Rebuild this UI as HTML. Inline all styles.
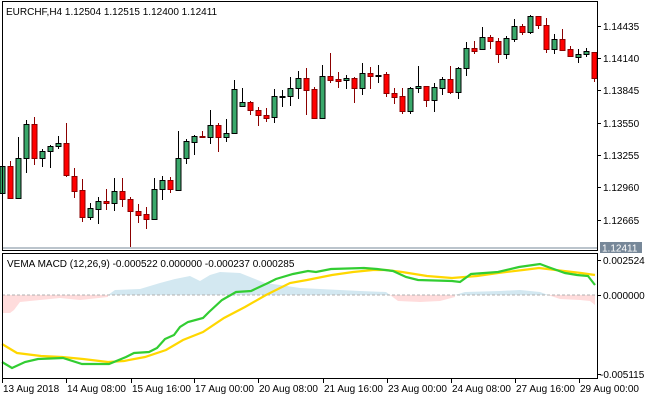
<!DOCTYPE html>
<html><head><meta charset="utf-8"><style>
html,body{margin:0;padding:0;background:#fff;width:650px;height:400px;overflow:hidden}
svg{display:block}
text{font-family:"Liberation Sans",sans-serif;font-size:10px;fill:#000}
</style></head><body>
<svg id="s" width="650" height="400" xmlns="http://www.w3.org/2000/svg">
<rect x="0" y="0" width="650" height="400" fill="#fff"/>
<g id="hist"></g>
<line x1="2" y1="295" x2="597" y2="295" stroke="#b0b0b0" stroke-dasharray="3,2"/>
<polyline fill="none" stroke="#ffd700" stroke-width="2.2" points="2,344 17,353 41,356 62,357 83,359 108,362 124,361 145,357 166,350 183,340 203,332 224,318 245,307 266,295 290,283 307,280 332,275 353,272 373,270 386,270 402,272 427,276 452,278 477,276 498,273 523,270 539,268 564,271 581,273 595,275"/>
<polyline fill="none" stroke="#32cd32" stroke-width="2.2" points="2,362 12,368 25,362 38,359 63,358 82,364 109,364 126,357 134,353 149,352 157,348 165,339 174,335 180,327 188,322 203,318 209,312 222,300 236,292 251,291 268,283 276,279 293,274 308,271 316,272 331,269 364,268 377,269 393,271 406,277 418,280 452,281 460,282 471,274 498,272 519,267 540,264 548,267 565,273 577,275 588,276 595,285"/>
<g id="c"></g>
<line x1="2" y1="248" x2="597" y2="248" stroke="#778899" stroke-width="1"/>
<rect x="2.5" y="1.5" width="595" height="249" fill="none" stroke="#000"/>
<rect x="2.5" y="253.5" width="595" height="125" fill="none" stroke="#000"/>
<text x="6" y="15">EURCHF,H4  1.12504 1.12515 1.12400 1.12411</text>
<text x="7" y="267">VEMA MACD (12,26,9) -0.000522 0.000000 -0.000237 0.000285</text>
<g id="ax"></g>
<rect x="600" y="242" width="42" height="11" fill="#778899"/>
<text x="602" y="251.5" style="fill:#fff">1.12411</text>
</svg>
<script>
var d=[[166,193,160,197,1],[166,198,161,199,0],[158,198,137,198,1],[124,158,120,173,1],[124,158,117,165,0],[151,158,149,167,1],[146,151,145,168,1],[143,146,136,149,1],[143,175,123,177,0],[176,191,168,198,0],[190,217,179,222,0],[208,217,203,220,1],[201,209,197,224,1],[201,203,189,210,0],[191,203,178,211,1],[191,199,178,207,0],[199,211,197,247,0],[211,215,204,223,0],[214,219,207,229,0],[189,219,178,220,1],[180,189,176,200,1],[180,189,177,193,0],[158,190,131,191,1],[141,158,139,164,1],[136,142,135,155,1],[136,137,131,138,0],[125,137,110,144,1],[125,137,123,152,0],[133,137,119,142,1],[89,133,80,134,1],[102,106,88,107,1],[102,110,101,115,0],[110,115,107,126,0],[115,118,108,122,0],[96,117,89,123,1],[96,97,90,107,1],[88,96,77,106,1],[78,88,71,99,1],[78,90,68,115,0],[89,118,87,118,0],[76,118,65,119,1],
[76,80,53,83,0],[79,81,72,88,0],[78,80,75,89,1],[78,88,77,103,0],[73,88,63,95,1],[73,76,67,89,0],[75,76,65,83,1],[74,93,72,97,0],[93,97,88,104,0],[96,111,88,114,0],[88,111,87,114,1],[86,88,66,93,1],[86,100,87,107,0],[87,100,83,112,1],[79,88,77,95,1],[79,92,66,94,0],[68,92,67,99,1],[48,68,42,76,1],[48,51,41,54,0],[37,49,27,49,1],[37,41,35,49,0],[41,54,38,63,0],[38,54,36,59,1],[26,39,19,42,1],[26,32,24,35,0],[16,32,15,34,1],[16,25,16,29,0],[25,49,18,53,0],[39,49,34,54,1],[39,50,29,51,0],[49,56,46,57,0],[54,57,49,63,1],[51,54,48,57,1],[52,78,52,82,0]];
var h='';
d.forEach(function(c,i){var x=Math.round(2.3+8*i)+0.5;var g=c[4];
var wc=g?'#000':'#8b0000';
h+='<line x1="'+x+'" y1="'+c[2]+'" x2="'+x+'" y2="'+c[3]+'" stroke="'+wc+'"/>';
var hh=Math.max(c[1]-c[0],1);
h+='<rect x="'+(x-2.5)+'" y="'+(c[0]+0.5)+'" width="5" height="'+hh+'" fill="'+(g?'#3aa86b':'#ff0000')+'" stroke="'+(g?'#000':'#8b0000')+'"/>';});
document.getElementById('c').innerHTML=h;
var hs='<polygon fill="#ffdcdc" points="2,295 2,313 10,313 14,310 20,302 40,300 60,298 80,300 108,297 108,295"/>';
hs+='<polygon fill="#d3e8f1" points="108,295 115,290 140,289 160,283 175,279 190,276 200,281 210,275 220,272 240,273 255,279 265,283 280,285 300,288 320,289 340,290 360,291 386,292 390,295"/>';
hs+='<polygon fill="#ffdcdc" points="390,295 398,301 420,302 440,301 455,297 455,295"/>';
hs+='<polygon fill="#d3e8f1" points="455,295 465,292 500,291 520,290 540,292 548,295"/>';
hs+='<polygon fill="#ffdcdc" points="548,295 560,299 580,300 590,301 595,305 595,295"/>';
document.getElementById('hist').innerHTML=hs;
var a='';
var pl=[['1.14435',26],['1.14140',58],['1.13845',90],['1.13550',123],['1.13255',155],['1.12960',187],['1.12665',220]];
pl.forEach(function(p){a+='<line x1="597" y1="'+(p[1]+.5)+'" x2="601" y2="'+(p[1]+.5)+'" stroke="#000"/><text x="603" y="'+(p[1]+4)+'">'+p[0]+'</text>';});
[['0.002524',260],['0.000000',295],['-0.005115',374]].forEach(function(p){a+='<line x1="597" y1="'+(p[1]+.5)+'" x2="601" y2="'+(p[1]+.5)+'" stroke="#000"/><text x="'+(p[0][0]=='-'?600:603)+'" y="'+(p[1]+4)+'">'+p[0]+'</text>';});
var tl=[['13 Aug 2018',2],['14 Aug 08:00',66],['15 Aug 16:00',131],['17 Aug 00:00',194],['20 Aug 08:00',258],['21 Aug 16:00',323],['23 Aug 00:00',387],['24 Aug 08:00',451],['27 Aug 16:00',515],['29 Aug 00:00',579]];
tl.forEach(function(t){a+='<line x1="'+(t[1]+.5)+'" y1="378" x2="'+(t[1]+.5)+'" y2="383" stroke="#000"/><text x="'+(t[1]+1)+'" y="392">'+t[0]+'</text>';});
document.getElementById('ax').innerHTML=a;
</script>
</body></html>
